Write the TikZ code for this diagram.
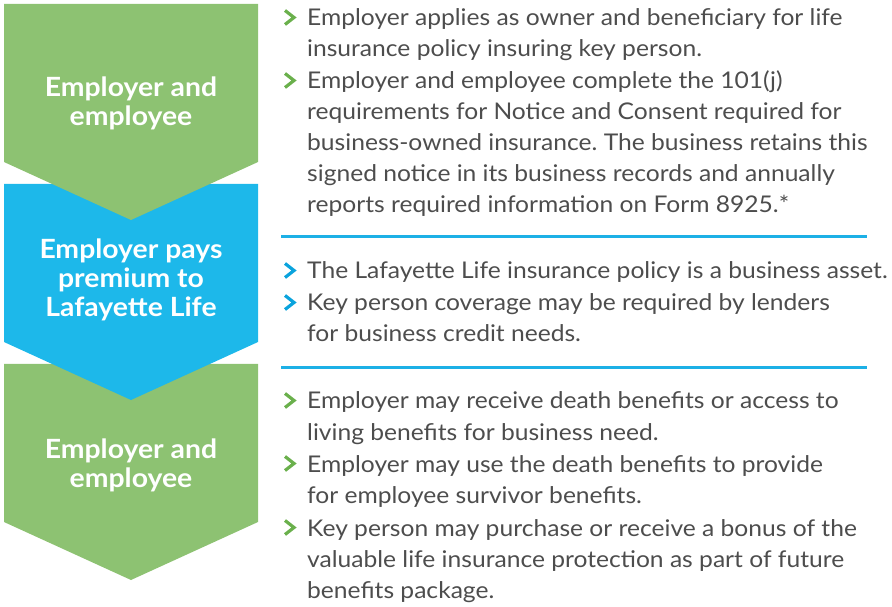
\documentclass[tikz,border=0pt]{standalone}
\usepackage{fontspec}
\setmainfont{Lato}[FakeStretch=1.07]
\frenchspacing
\definecolor{chgreen}{HTML}{8DC272}
\definecolor{chblue}{HTML}{1DB8EA}
\definecolor{bgreen}{HTML}{6AB04C}
\definecolor{bblue}{HTML}{0AA3DD}
\definecolor{sepblue}{HTML}{1DB0E6}
\definecolor{txtgray}{HTML}{4D4D4D}
\newcommand\rline[3]{\node[txt] (#1) at (307,{606-#2}) {#3};}
\newcommand\bul[2]{\draw[bulstyle,#1] (285,{606-#2+8.5+7}) -- (294,{606-#2+8.5}) -- (285,{606-#2+8.5-7});}
\begin{document}
\begin{tikzpicture}[x=1pt,y=1pt,
  txt/.style={anchor=base west,inner sep=0pt,text=txtgray,font=\fontsize{23}{27}\selectfont},
  chtxt/.style={anchor=base,inner sep=0pt,text=white,font=\bfseries\fontsize{26.5}{30}\selectfont},
  bulstyle/.style={line width=3.2pt,miter limit=10},
  sep/.style={draw=sepblue,line width=3pt}]
\useasboundingbox (0,0) rectangle (892,606);
% chevrons (bottom first)
\fill[chgreen] (4,242) -- (258,242) -- (258,84) -- (131,26) -- (4,84) -- cycle;
\fill[chblue] (4,422) -- (258,422) -- (258,264) -- (131,206) -- (4,264) -- cycle;
\fill[chgreen] (4,602) -- (258,602) -- (258,444) -- (131,386) -- (4,444) -- cycle;
% chevron texts
\node[chtxt] (c1a) at (131,{606-97}) {Employer and};
\node[chtxt] (c1b) at (131,{606-126}) {employee};
\node[chtxt] (c2a) at (131,{606-259}) {Employer pays};
\node[chtxt] (c2b) at (131,{606-288}) {premium to};
\node[chtxt] (c2c) at (131,{606-317}) {Lafayette Life};
\node[chtxt] (c3a) at (131,{606-458}) {Employer and};
\node[chtxt] (c3b) at (131,{606-487}) {employee};
% separators
\coordinate (s1a) at (281,369); \coordinate (s1b) at (867,369);
\coordinate (s2a) at (281,238); \coordinate (s2b) at (867,238);
\draw[sep] (s1a) -- (s1b);
\draw[sep] (s2a) -- (s2b);
% section 1
\bul{draw=bgreen}{26}
\rline{a1}{26}{Employer applies as owner and beneficiary for life}
\rline{a2}{57}{insurance policy insuring key person.}
\bul{draw=bgreen}{89}
\rline{a3}{89}{Employer and employee complete the 101(j)}
\rline{a4}{120}{requirements for Notice and Consent required for}
\rline{a5}{151}{business-owned insurance. The business retains this}
\rline{a6}{182}{signed notice in its business records and annually}
\rline{a7}{213}{reports required information on Form 8925.*}
% section 2
\bul{draw=bblue}{279}
\rline{b1}{279}{The Lafayette Life insurance policy is a business asset.}
\bul{draw=bblue}{311}
\rline{b2}{311}{Key person coverage may be required by lenders}
\rline{b3}{342}{for business credit needs.}
% section 3
\bul{draw=bgreen}{409}
\rline{d1}{409}{Employer may receive death benefits or access to}
\rline{d2}{440}{living benefits for business need.}
\bul{draw=bgreen}{472}
\rline{d3}{472}{Employer may use the death benefits to provide}
\rline{d4}{503}{for employee survivor benefits.}
\bul{draw=bgreen}{536}
\rline{d5}{536}{Key person may purchase or receive a bonus of the}
\rline{d6}{567}{valuable life insurance protection as part of future}
\rline{d7}{598}{benefits package.}
\end{tikzpicture}
\end{document}
